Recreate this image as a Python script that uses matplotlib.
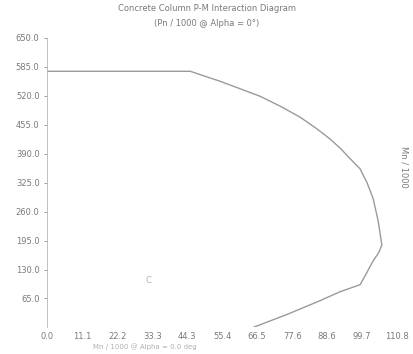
import numpy as np
import matplotlib
matplotlib.use("Agg")
import matplotlib.pyplot as plt

# interaction curve (Mn/1000, Pn/1000)
moment = [0.0, 45.3, 55.0, 67.4, 74.0, 80.1, 85.0, 89.6, 93.0, 95.9, 99.1,
          101.3, 103.2, 104.8, 106.0, 105.0, 103.2, 101.0, 99.1, 92.7,
          86.4, 75.9, 65.2]
axial = [575, 575, 552, 519, 496, 472, 448, 423, 401, 379, 356,
         325, 290, 240, 185, 168, 149, 120, 96, 80,
         60, 29, 0]

xticks = [0.0, 11.1, 22.2, 33.3, 44.3, 55.4, 66.5, 77.6, 88.6, 99.7, 110.8]
yticks = [65.0, 130.0, 195.0, 260.0, 325.0, 390.0, 455.0, 520.0, 585.0, 650.0]

grey = "#7a7a7a"

fig = plt.figure(figsize=(4.14, 3.54), dpi=100)
ax = fig.add_axes([0.114, 0.075, 0.845, 0.818])
ax.plot(moment, axial, color="#9a9a9a", linewidth=1.0)
ax.text(31.0, 100, "C", color="#b0b0b0", fontsize=6)

ax.set_xlim(0, 110.8)
ax.set_ylim(0, 650)
ax.set_xticks(xticks)
ax.set_xticklabels(["%.1f" % v for v in xticks])
ax.set_yticks(yticks)
ax.set_yticklabels(["%.1f" % v for v in yticks])
ax.tick_params(axis="both", colors=grey, labelsize=6, length=2, width=0.5)
ax.tick_params(axis="x", length=0, pad=3)
for side in ["top", "right", "bottom"]:
    ax.spines[side].set_visible(False)
ax.spines["left"].set_color("#b5b5b5")
ax.spines["left"].set_linewidth(0.6)

fig.text(0.5, 0.975, "Concrete Column P-M Interaction Diagram",
         ha="center", va="center", fontsize=6, color=grey)
fig.text(0.5, 0.935, "(Pn / 1000 @ Alpha = 0\u00b0)",
         ha="center", va="center", fontsize=6, color=grey)
fig.text(0.975, 0.53, "Mn / 1000", rotation=-90,
         ha="center", va="center", fontsize=6, color=grey)
fig.text(0.35, 0.02, "Mn / 1000 @ Alpha = 0.0 deg",
         ha="center", va="center", fontsize=5, color="#b0b0b0")

fig.savefig("out.png", dpi=100)
